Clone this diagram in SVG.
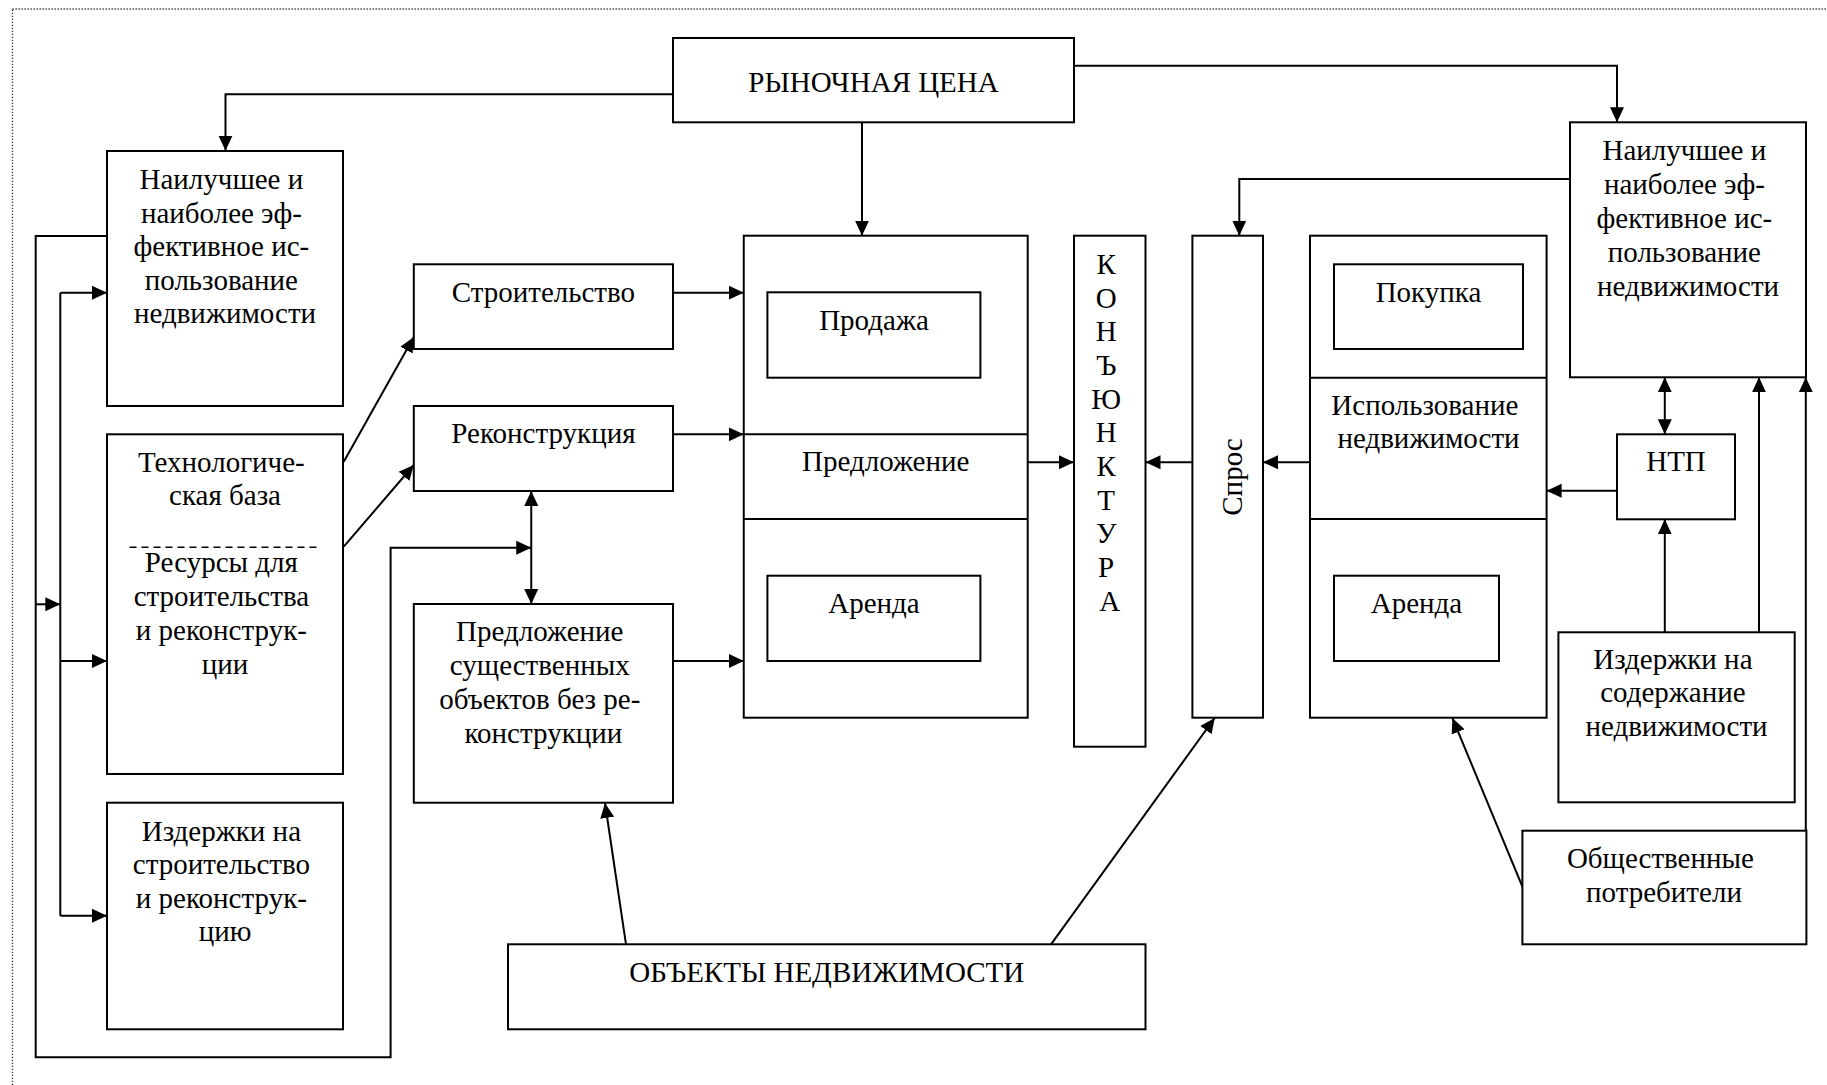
<svg xmlns="http://www.w3.org/2000/svg" width="1827" height="1085" viewBox="0 0 1827 1085">
  <defs>
    <marker id="arrow" markerUnits="userSpaceOnUse" markerWidth="16" markerHeight="15" refX="15" refY="7" orient="auto-start-reverse" viewBox="0 0 16 14">
      <path d="M0,0 L15,7 L0,14 Z" fill="#000"/>
    </marker>
  </defs>
  <style>
    .box { fill: #fff; stroke: #000; stroke-width: 2; }
    .div { stroke: #000; stroke-width: 2; fill: none; }
    .lbl { font-family: "Liberation Serif", "Times New Roman", serif; font-size: 29px; fill: #000; text-anchor: middle; }
    .conn path { fill: none; stroke: #000; stroke-width: 2; }
    .arr { marker-end: url(#arrow); }
    .dbl { marker-start: url(#arrow); marker-end: url(#arrow); }
  </style>

  <rect x="12.5" y="9" width="1830" height="1090" fill="none" stroke="#333" stroke-width="1.3" stroke-dasharray="1.3 1.7"/>

  <!-- connectors -->
  <g id="connectors" class="conn">
    <path class="arr" d="M673,94.3 H225.5 V150.7"/>
    <path class="arr" d="M862,122.3 V235.7"/>
    <path class="arr" d="M1074,65.7 H1617 V122.3"/>
    <path class="arr" d="M1570,179 H1239.3 V235.7"/>
    <path class="arr" d="M107,236 H35.7 V1057.3 H390.6 V547.7 H531.25"/>
    <path class="arr" d="M35.7,604.3 H60.3"/>
    <path d="M60.3,292.7 V915.7"/>
    <path class="arr" d="M60.3,292.7 H107"/>
    <path class="arr" d="M60.3,661 H107"/>
    <path class="arr" d="M60.3,915.7 H107"/>
    <path class="arr" d="M343.75,461.7 L413.8,337"/>
    <path class="arr" d="M343.75,546.7 L413.8,465"/>
    <path class="arr" d="M673,292.7 H743.75"/>
    <path class="arr" d="M673,434.3 H743.75"/>
    <path class="arr" d="M673,661 H743.75"/>
    <path class="dbl" d="M531.25,491 V604"/>
    <path class="arr" d="M626,944.3 L605,803"/>
    <path class="arr" d="M1051,944.3 L1214.7,718"/>
    <path class="arr" d="M1027.7,462.3 H1074"/>
    <path class="arr" d="M1192.4,462.3 H1145.5"/>
    <path class="arr" d="M1310,462.3 H1263"/>
    <path class="arr" d="M1617,490.7 H1546.6"/>
    <path class="dbl" d="M1664.8,377.3 V434.3"/>
    <path class="arr" d="M1664.8,632.3 V519.3"/>
    <path class="arr" d="M1759,632.3 V377.3"/>
    <path class="arr" d="M1805.8,830.7 V377.3"/>
    <path class="arr" d="M1522.4,886.7 L1452.4,718"/>
  </g>

  <!-- market price -->
  <g id="market-price">
    <rect class="box" x="673" y="38" width="401" height="84.3"/>
    <text class="lbl" x="873.5" y="91.7">РЫНОЧНАЯ ЦЕНА</text>
  </g>

  <!-- left column -->
  <g id="best-use-left">
    <rect class="box" x="107" y="151" width="236" height="255"/>
    <text class="lbl">
      <tspan x="225" y="189">Наилучшее и</tspan>
      <tspan x="225" y="222.5">наиболее эф-</tspan>
      <tspan x="225" y="256">фективное ис-</tspan>
      <tspan x="225" y="289.5">пользование</tspan>
      <tspan x="225" y="323">недвижимости</tspan>
    </text>
  </g>

  <g id="tech-base">
    <rect class="box" x="107" y="434.3" width="236" height="339.7"/>
    <text class="lbl">
      <tspan x="225" y="471.7">Технологиче-</tspan>
      <tspan x="225" y="505">ская база</tspan>
    </text>
    <line x1="129.5" y1="547.3" x2="320.5" y2="547.3" stroke="#000" stroke-width="1.5" stroke-dasharray="7 5"/>
    <text class="lbl">
      <tspan x="225" y="571.7">Ресурсы для</tspan>
      <tspan x="225" y="606">строительства</tspan>
      <tspan x="225" y="640">и реконструк-</tspan>
      <tspan x="225" y="673.5">ции</tspan>
    </text>
  </g>

  <g id="construction-costs">
    <rect class="box" x="107" y="802.7" width="236" height="226.6"/>
    <text class="lbl">
      <tspan x="225" y="840.7">Издержки на</tspan>
      <tspan x="225" y="874.2">строительство</tspan>
      <tspan x="225" y="907.7">и реконструк-</tspan>
      <tspan x="225" y="941.2">цию</tspan>
    </text>
  </g>

  <!-- supply sources -->
  <g id="construction">
    <rect class="box" x="413.8" y="264.3" width="259.2" height="84.7"/>
    <text class="lbl" x="543.4" y="301.7">Строительство</text>
  </g>

  <g id="reconstruction">
    <rect class="box" x="413.8" y="406" width="259.2" height="85"/>
    <text class="lbl" x="543.4" y="443.3">Реконструкция</text>
  </g>

  <g id="existing-objects">
    <rect class="box" x="413.8" y="604" width="259.2" height="198.7"/>
    <text class="lbl">
      <tspan x="543.4" y="641">Предложение</tspan>
      <tspan x="543.4" y="675">существенных</tspan>
      <tspan x="543.4" y="709">объектов без ре-</tspan>
      <tspan x="543.4" y="743">конструкции</tspan>
    </text>
  </g>

  <!-- supply block -->
  <g id="supply">
    <rect class="box" x="743.75" y="235.7" width="283.95" height="482"/>
    <line class="div" x1="743.75" y1="434.3" x2="1027.7" y2="434.3"/>
    <line class="div" x1="743.75" y1="519" x2="1027.7" y2="519"/>
    <rect class="box" x="767.4" y="292.3" width="213" height="85.4"/>
    <text class="lbl" x="874" y="330">Продажа</text>
    <text class="lbl" x="885.7" y="471">Предложение</text>
    <rect class="box" x="767.4" y="575.7" width="213" height="85.3"/>
    <text class="lbl" x="874" y="613.3">Аренда</text>
  </g>

  <!-- market conditions -->
  <g id="conjuncture">
    <rect class="box" x="1074" y="235.7" width="71.5" height="511"/>
    <text class="lbl">
      <tspan x="1109.8" y="274">К</tspan>
      <tspan x="1109.8" y="307.7">О</tspan>
      <tspan x="1109.8" y="341.3">Н</tspan>
      <tspan x="1109.8" y="375">Ъ</tspan>
      <tspan x="1109.8" y="408.7">Ю</tspan>
      <tspan x="1109.8" y="442.3">Н</tspan>
      <tspan x="1109.8" y="476">К</tspan>
      <tspan x="1109.8" y="509.7">Т</tspan>
      <tspan x="1109.8" y="543.4">У</tspan>
      <tspan x="1109.8" y="577">Р</tspan>
      <tspan x="1109.8" y="610.7">А</tspan>
    </text>
  </g>

  <g id="demand">
    <rect class="box" x="1192.4" y="235.7" width="70.6" height="482"/>
    <text class="lbl" transform="translate(1241.5,477) rotate(-90)" x="0" y="0">Спрос</text>
  </g>

  <!-- demand block -->
  <g id="property-use">
    <rect class="box" x="1310" y="235.7" width="236.6" height="482"/>
    <line class="div" x1="1310" y1="377.7" x2="1546.6" y2="377.7"/>
    <line class="div" x1="1310" y1="519" x2="1546.6" y2="519"/>
    <rect class="box" x="1334" y="264.3" width="189" height="84.7"/>
    <text class="lbl" x="1428.5" y="301.7">Покупка</text>
    <text class="lbl">
      <tspan x="1428.5" y="415">Использование</tspan>
      <tspan x="1428.5" y="448.3">недвижимости</tspan>
    </text>
    <rect class="box" x="1334" y="575.7" width="165" height="85.3"/>
    <text class="lbl" x="1416.5" y="613.3">Аренда</text>
  </g>

  <!-- right column -->
  <g id="best-use-right">
    <rect class="box" x="1570" y="122.3" width="236" height="255"/>
    <text class="lbl">
      <tspan x="1688" y="160">Наилучшее и</tspan>
      <tspan x="1688" y="193.9">наиболее эф-</tspan>
      <tspan x="1688" y="227.8">фективное ис-</tspan>
      <tspan x="1688" y="261.7">пользование</tspan>
      <tspan x="1688" y="295.6">недвижимости</tspan>
    </text>
  </g>

  <g id="ntp">
    <rect class="box" x="1617" y="434.3" width="118" height="85"/>
    <text class="lbl" x="1676" y="471">НТП</text>
  </g>

  <g id="maintenance-costs">
    <rect class="box" x="1558.4" y="632.3" width="236.3" height="170"/>
    <text class="lbl">
      <tspan x="1676.5" y="668.5">Издержки на</tspan>
      <tspan x="1676.5" y="702">содержание</tspan>
      <tspan x="1676.5" y="735.5">недвижимости</tspan>
    </text>
  </g>

  <g id="public-consumers">
    <rect class="box" x="1522.4" y="830.7" width="284" height="113.6"/>
    <text class="lbl">
      <tspan x="1664" y="868.3">Общественные</tspan>
      <tspan x="1664" y="902.3">потребители</tspan>
    </text>
  </g>

  <!-- real estate objects -->
  <g id="real-estate-objects">
    <rect class="box" x="508" y="944.3" width="637.5" height="85"/>
    <text class="lbl" x="826.7" y="981.7">ОБЪЕКТЫ НЕДВИЖИМОСТИ</text>
  </g>
</svg>
